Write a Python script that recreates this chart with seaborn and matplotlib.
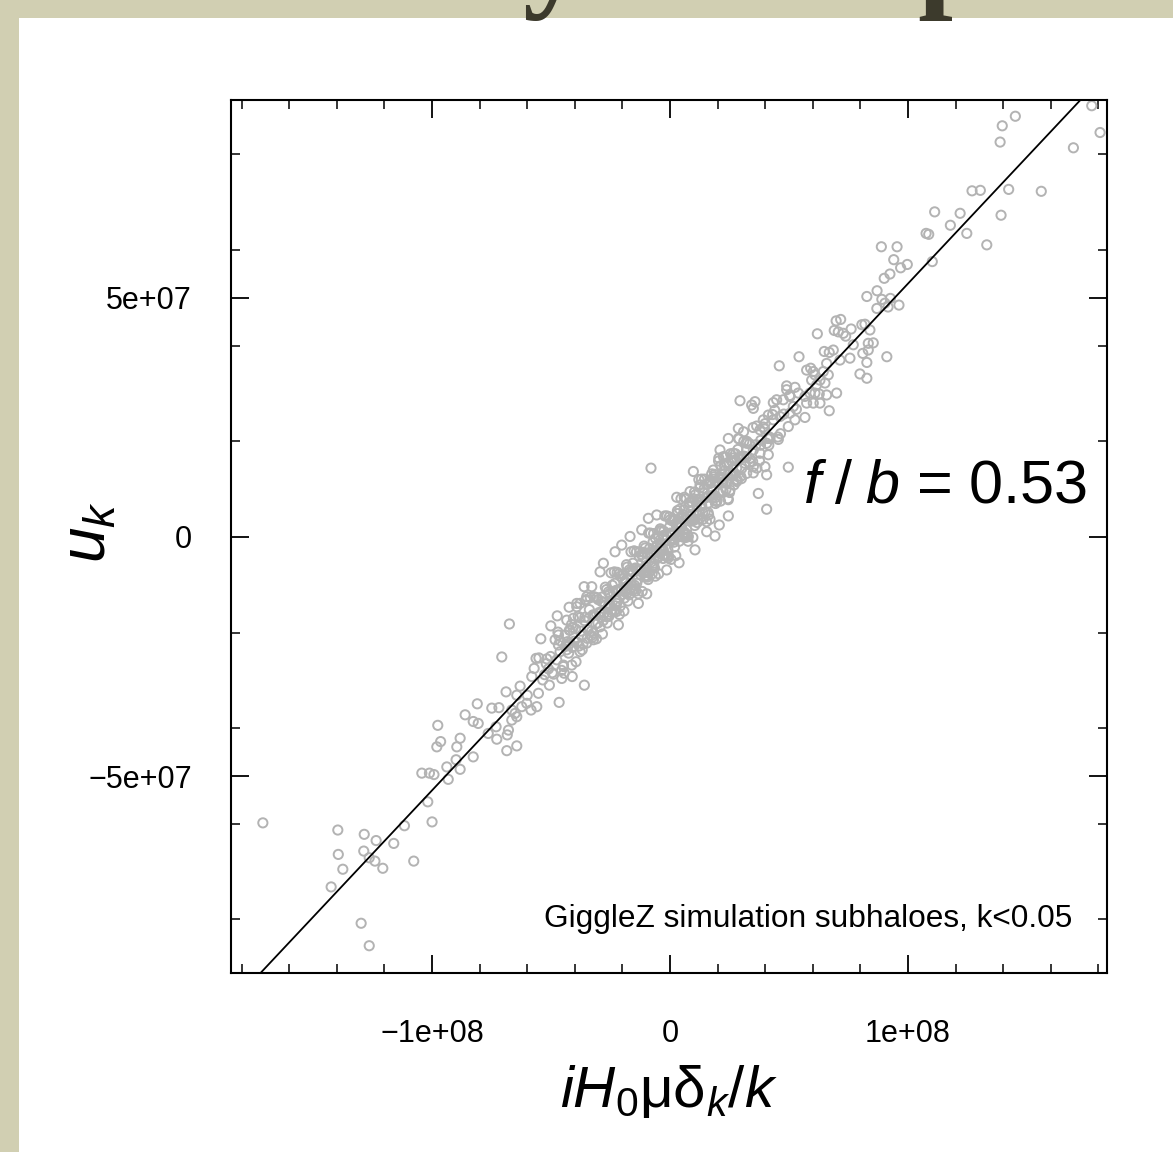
import numpy as np
import pandas as pd
import matplotlib
matplotlib.use("Agg")
import matplotlib.pyplot as plt
from matplotlib.patches import Rectangle
from matplotlib.ticker import MultipleLocator
import seaborn as sns

# values, in units of 1e6
upper_x = [177.2, 180.7, 145.1, 139.6, 138.7, 169.5, 126.9, 130.4, 142.3, 156.0,
           111.2, 121.9, 139.1, 117.8, 107.6, 108.7, 124.7, 133.1, 88.8, 95.4,
           94.0, 96.9, 99.7, 110.2, 90.0, 92.4, 87.0, 82.7, 89.0, 92.6,
           90.3, 86.9, 91.6, 96.2, 69.8, 71.7, 80.6, 81.9]
upper_y = [90.2, 84.6, 88.0, 86.0, 82.6, 81.4, 72.4, 72.5, 72.7, 72.3,
           68.0, 67.7, 67.3, 65.2, 63.5, 63.3, 63.5, 61.1, 60.7, 60.7,
           58.0, 56.3, 57.0, 57.6, 54.1, 55.0, 51.5, 50.3, 49.7, 49.9,
           48.9, 47.8, 48.1, 48.5, 45.2, 45.5, 44.4, 44.5]

mid_x = [61.9, 69.0, 70.7, 72.8, 73.8, 76.1, 84.0, 77.0, 83.3, 85.4,
         81.0, 83.3, 91.1, 82.7, 79.8, 82.7, 75.6, 71.4, 64.8, 66.9,
         68.6, 65.8, 64.4, 66.5, 65.1, 65.8, 70.0, 63.0, 66.9, 54.2,
         45.9, 57.4, 59.1, 60.2, 60.9, 59.5, 61.6, 63.0, 29.4, 34.3,
         35.7, 35.0, 44.8, 49.0, 52.5, 53.9, 50.4, 47.6, 56.7, 58.8,
         60.9, 62.7, 57.4, 60.2, 56.7, 51.8, 50.4, 52.5, 49.7, 46.2,
         43.4, 39.2, 41.3, 37.8, 28.7, 24.5, 28.7, 32.2, 35.0, 40.6,
         42.0, 37.8, 41.3, 39.9, 40.6, 49.7, 37.1, 21.0, 22.4, 26.6,
         29.4, 31.5, 28.0, 25.2, 21.0, 18.2, 16.8, 9.8, 12.6, 8.4,
         25.2, 28.0, 32.2, 35.0, 23.8]
mid_y = [42.5, 43.2, 42.9, 42.6, 42.0, 43.5, 43.3, 40.2, 40.5, 40.6,
         38.4, 39.1, 37.7, 36.5, 34.1, 33.2, 37.4, 37.0, 38.8, 38.6,
         39.1, 36.3, 34.6, 33.9, 32.2, 29.7, 30.1, 28.0, 26.4, 37.7,
         35.8, 34.9, 35.3, 34.6, 33.9, 32.8, 31.8, 32.8, 28.5, 27.6,
         28.3, 26.9, 28.7, 30.8, 31.3, 30.1, 29.4, 28.7, 29.4, 30.1,
         30.1, 29.9, 28.0, 28.0, 25.0, 27.3, 25.9, 24.5, 23.1, 25.2,
         24.5, 24.5, 25.5, 22.4, 22.7, 20.6, 20.6, 19.6, 18.2, 19.6,
         20.6, 17.5, 17.2, 14.7, 13.0, 14.6, 9.1, 18.2, 16.8, 17.5,
         16.8, 15.4, 14.4, 13.3, 12.6, 14.0, 11.9, 13.7, 10.9, 9.5,
         9.8, 11.6, 13.3, 14.7, 15.4]

edge_x = [-8.0, 40.6, 2.8, 10.5, 3.8, 15.4, 18.9, 20.7, 24.5, -1.4,
          -9.8, -21.7, -36.1, -43.4, -39.2, -42.0, -13.3, -23.1, -5.6, -9.1,
          -11.9, -16.8, -20.3, -23.1, -28.0, -29.4, -32.9, -35.0, -37.8, 0.0,
          4.2, 7.0, 1.4, -4.2, -2.8, -7.0, -11.2, -14.0, -18.2, -22.4,
          -26.6, -29.4, -32.2]
edge_y = [14.4, 5.8, 8.3, -2.7, -5.4, 1.1, 0.2, 2.5, 4.4, -6.9,
          -11.9, -18.4, -10.4, -17.4, -14.6, -19.5, -13.9, -15.3, 4.6, 3.9,
          1.5, 0.1, -1.7, -3.1, -5.5, -7.3, -10.4, -12.5, -13.9, 3.6,
          2.9, 1.5, -0.6, -1.3, -2.7, -6.2, -7.6, -9.7, -11.8, -13.9,
          -16.7, -18.8, -20.1]

core_x = [-46.2, -44.8, -43.1, -42.6, -41.4, -40.3, -39.7, -38.2, -37.5, -36.9,
          -35.8, -34.6, -33.9, -33.1, -32.4, -31.2, -30.7, -29.5, -28.8, -28.1,
          -27.3, -26.4, -25.9, -25.1, -24.3, -23.6, -22.8, -22.1, -21.4, -20.6,
          -19.9, -19.2, -18.5, -17.7, -17.1, -16.3, -15.6, -14.8, -14.2, -13.5,
          -12.7, -12.1, -11.4, -10.6, -9.9, -9.2, -8.6, -7.8, -7.1, -6.5,
          -5.7, -5.1, -4.4, -3.6, -2.9, -2.3, -1.5, -0.8, -0.2, 0.6,
          1.3, 1.9, 2.7, 3.4, 4.1, 4.8, 5.5, 6.2, 6.9, 7.7,
          8.3, 9.1, 9.8, 10.4, 11.2, 11.9, 12.6, 13.3, 14.1, 14.7,
          15.5, 16.2, 16.9, 17.6, 18.4, 19.1, 19.8, 20.5, 21.3, 22.0,
          22.7, 23.5, 24.2, 25.0, 25.8, 26.6, 27.5, 28.3, 29.2, 30.1,
          31.0, 32.2, 33.4, 34.7, 36.1, 37.6, 39.2, 41.0, 43.1, 45.3,
          -30.3, -27.9, -25.6, -23.2, -21.0, -18.9, -16.8, -14.6, -12.9, -11.0,
          -9.5, -8.0, -6.8, -5.4, -4.0, -2.6, -1.2, 0.1, 1.6, 3.0,
          4.5, 5.9, 7.3, 8.8, 10.1, 11.6, 13.0, 14.4, 16.0, 17.4,
          19.0, 20.8, 22.4, 24.6, 26.9, 29.5]
core_y = [-21.7, -26.8, -21.9, -24.3, -18.3, -21.8, -19.2, -22.8, -19.7, -23.6,
          -16.8, -19.4, -15.2, -20.6, -16.3, -18.2, -12.7, -16.0, -13.5, -17.5,
          -14.3, -18.0, -11.5, -14.4, -10.1, -15.6, -11.2, -13.4, -7.7, -11.3,
          -8.7, -12.8, -9.6, -13.4, -6.9, -9.7, -5.5, -10.9, -6.6, -8.9,
          -3.1, -6.8, -4.2, -8.2, -5.0, -8.9, -2.4, -5.2, -1.0, -6.5,
          -2.1, -4.4, 1.3, -2.3, 0.3, -3.8, -0.6, -4.4, 2.1, -0.8,
          3.5, -2.1, 2.3, 0.1, 5.8, 2.1, 4.7, 0.7, 3.9, 0.1,
          6.6, 3.7, 8.0, 2.4, 6.8, 4.6, 10.3, 6.6, 9.3, 5.2,
          8.4, 4.6, 11.2, 8.2, 12.6, 7.0, 11.4, 9.2, 14.9, 11.3,
          13.8, 9.9, 13.0, 9.3, 15.9, 13.0, 17.4, 11.9, 16.4, 14.3,
          20.0, 16.7, 19.5, 15.8, 19.3, 15.9, 23.0, 20.6, 25.6, 20.9,
          -18.0, -13.6, -13.9, -9.7, -14.5, -9.3, -10.8, -6.5, -7.1, -3.2,
          -8.4, -3.5, -5.5, -1.7, -2.4, 1.2, -4.0, 0.8, -1.1, 2.8,
          2.1, 5.7, 0.5, 5.4, 3.5, 7.3, 6.6, 10.2, 5.1, 9.9,
          8.2, 12.2, 11.6, 15.6, 10.9, 16.3]

band_x = [-58.4, -55.1, -52.7, -50.2, -48.9, -47.1, -45.6, -44.0, -42.3, -41.0,
          -39.5, -38.6, -37.2, -36.0, -34.8, -33.5, -32.7, -31.6, -30.2, -29.1,
          -28.4, -27.2, -26.1, -25.3, -24.6, -23.4, -22.5, -21.7, -20.9, -20.0,
          -19.4, -18.3, -17.4, -16.6, -15.9, -15.1, -14.4, -13.8, -13.0, -12.3,
          -11.7, -10.9, -10.2, -9.6, -8.9, -8.2, -7.5, -6.9, -6.1, -5.5,
          -4.8, -4.1, -3.5, -2.7, -2.0, -1.3, -0.6, 0.2, 0.9, 1.7,
          2.4, 3.1, 3.8, 4.6, 5.3, 6.0, 6.7, 7.4, 8.1, 8.9,
          9.6, 10.3, 11.0, 11.8, 12.5, 13.2, 13.9, 14.6, 15.3, 16.1,
          16.8, 17.5, 18.3, 19.0, 19.7, 20.4, 21.2, 21.9, 22.8, 23.7,
          24.5, 25.4, 26.3, 27.1, 28.0, 29.0, 30.0, 31.1, 32.3, 33.6,
          35.0, 36.4, 38.0, 39.7, 41.5, 43.4, 45.5, 47.8, 50.3, 53.1]
band_y = [-36.2, -25.3, -28.8, -25.0, -28.7, -19.9, -27.9, -22.9, -19.5, -23.1,
          -26.1, -16.6, -20.6, -17.5, -21.2, -12.7, -21.0, -16.3, -13.1, -16.8,
          -20.3, -10.5, -14.7, -11.8, -15.8, -7.3, -15.6, -11.1, -8.2, -12.0,
          -15.5, -5.8, -10.1, -7.2, -11.2, -2.9, -11.3, -6.9, -4.0, -7.9,
          -11.4, -1.9, -6.3, -3.5, -7.5, 0.8, -7.7, -3.3, -0.3, -4.3,
          -7.7, 1.7, -2.8, 0.2, -3.9, 4.4, -4.0, 0.5, 3.4, -0.5,
          -3.9, 5.5, 1.1, 4.0, 0.0, 8.3, -0.1, 4.3, 7.2, 3.3,
          -0.1, 9.4, 4.9, 7.9, 3.8, 12.1, 3.7, 8.1, 11.0, 7.1,
          3.7, 13.2, 8.8, 11.7, 7.6, 15.9, 7.5, 12.0, 15.0, 11.2,
          7.8, 17.4, 13.0, 16.0, 12.0, 20.5, 12.2, 16.9, 20.0, 16.4,
          13.4, 23.2, 19.2, 22.6, 19.2, 28.1, 20.4, 25.7, 29.6, 26.7]

dense_x = [-52.0, -49.5, -46.9, -44.5, -42.8, -40.8, -39.0, -37.9, -36.6, -35.3,
           -34.1, -33.0, -31.9, -30.9, -29.8, -28.7, -27.6, -26.7, -25.7, -24.8,
           -23.9, -23.0, -22.2, -21.3, -20.4, -19.6, -18.8, -18.0, -17.2, -16.4,
           -15.6, -14.9, -14.1, -13.3, -12.6, -11.9, -11.1, -10.4, -9.7, -9.0,
           -8.3, -7.6, -6.9, -6.2, -5.6, -4.9, -4.2, -3.5, -2.9, -2.2,
           -1.5, -0.9, -0.3, 0.4, 1.1, 1.8, 2.5, 3.2, 3.9, 4.6,
           5.3, 6.1, 6.8, 7.6, 8.3, 9.0, 9.8, 10.6, 11.4, 12.1,
           12.9, 13.7, 14.5, 15.3, 16.2, 17.0, 17.9, 18.7, 19.6, 20.5,
           21.4, 22.3, 23.3, 24.3, 25.3, 26.3, 27.4, 28.5, 29.7, 30.9,
           32.2, 33.5, 34.9, 36.5, 38.1, 39.9, 41.8, 44.0, 46.4, 49.0]
dense_y = [-26.5, -28.4, -20.5, -28.5, -22.7, -19.0, -22.0, -16.9, -22.4, -13.1,
           -17.0, -19.7, -12.5, -21.3, -15.8, -12.6, -15.9, -11.0, -16.6, -7.5,
           -11.6, -14.4, -7.4, -16.2, -10.8, -7.8, -11.3, -6.3, -12.1, -3.1,
           -7.2, -10.1, -3.1, -11.9, -6.7, -3.7, -7.2, -2.3, -8.1, 0.8,
           -3.3, -6.2, 0.7, -8.2, -3.0, 0.0, -3.5, 1.3, -4.5, 4.4,
           0.3, -2.7, 4.2, -4.7, 0.6, 3.6, 0.0, 4.9, -0.9, 8.0,
           3.9, 1.0, 8.0, -0.9, 4.4, 7.4, 3.9, 8.8, 3.0, 12.0,
           7.9, 5.1, 12.1, 3.2, 8.6, 11.6, 8.2, 13.1, 7.4, 16.5,
           12.4, 9.6, 16.7, 8.0, 13.4, 16.5, 13.2, 18.3, 12.7, 22.0,
           18.2, 15.6, 22.9, 14.4, 20.2, 23.7, 20.9, 26.5, 21.6, 31.6]

lower_x = [-67.5, -70.7, -54.3, -50.1, -47.4, -42.4, -39.2, -35.4, -40.6, -48.3,
           -46.9, -44.1, -42.0, -46.2, -43.4, -40.6, -37.8, -35.0, -32.2, -56.3,
           -51.8, -57.1, -51.1, -47.6, -44.8, -41.3, -45.5, -41.1, -36.0, -50.7,
           -53.5, -58.1, -55.3, -56.0, -46.6, -63.0, -60.0, -68.9, -64.4, -66.5,
           -62.3, -60.2, -64.4, -66.5, -65.1, -67.9, -68.4, -73.1, -76.4, -72.8,
           -68.6, -64.4, -71.9, -74.9, -81.0, -86.1, -82.7, -80.6, -97.6, -96.4,
           -98.0, -89.6, -88.2, -89.9, -82.7, -88.2, -93.8, -101.1, -99.2, -104.3,
           -93.2]
lower_y = [-18.2, -25.1, -21.3, -18.6, -16.5, -14.7, -13.9, -13.3, -17.0, -21.5,
           -22.6, -20.5, -22.2, -24.0, -23.6, -22.9, -24.0, -22.2, -21.5, -25.4,
           -25.5, -27.5, -27.6, -25.7, -27.1, -26.8, -29.6, -29.2, -31.0, -31.0,
           -29.9, -29.2, -32.7, -35.5, -34.6, -31.2, -33.1, -32.4, -33.1, -36.2,
           -35.5, -34.8, -37.6, -38.3, -36.9, -40.4, -41.4, -39.7, -41.1, -42.3,
           -44.7, -43.7, -35.7, -35.8, -34.9, -37.2, -38.6, -39.0, -39.4, -42.8,
           -43.9, -43.9, -42.1, -46.6, -46.0, -48.6, -48.1, -49.4, -49.7, -49.4,
           -50.7]

tail_x = [-101.8, -100.0, -111.6, -116.1, -107.7, -171.1, -139.6, -128.5, -123.5,
          -139.4, -128.7, -126.4, -124.0, -120.7, -137.5, -142.4, -129.8, -126.4]
tail_y = [-55.4, -59.6, -60.4, -64.1, -67.8, -59.8, -61.3, -62.2, -63.5,
          -66.4, -65.7, -67.1, -67.8, -69.3, -69.5, -73.2, -80.8, -85.5]

fit_slope = 0.53
unit = 1e6

xticks = [-1e8, 0, 1e8]
xtick_labels = ["\u22121e+08", "0", "1e+08"]
yticks = [-5e7, 0, 5e7]
ytick_labels = ["\u22125e+07", "0", "5e+07"]

all_x = upper_x + mid_x + edge_x + core_x + band_x + dense_x + lower_x + tail_x
all_y = upper_y + mid_y + edge_y + core_y + band_y + dense_y + lower_y + tail_y
df = pd.DataFrame({"x": np.array(all_x) * unit, "y": np.array(all_y) * unit})

sns.set_style("ticks")
plt.rcParams["font.family"] = ["Liberation Sans", "DejaVu Sans"]
plt.rcParams["mathtext.fontset"] = "custom"
plt.rcParams["mathtext.rm"] = "Liberation Sans"
plt.rcParams["mathtext.it"] = "Liberation Sans:italic"
plt.rcParams["text.color"] = "black"
plt.rcParams["axes.labelcolor"] = "black"

fig = plt.figure(figsize=(11.73, 11.52), dpi=100, facecolor="#d1cfb2")
# white slide panel over the textured background
fig.add_artist(Rectangle((19 / 1173, 0), 1, 1 - 18 / 1152, transform=fig.transFigure,
                         facecolor="white", edgecolor="none", zorder=0))
# bottoms of the cut-off slide title
for xpos, ch in [(554 / 1173, "y"), (952 / 1173, "p")]:
    fig.text(xpos, 1.0 + 6 / 1152, ch, ha="center", va="baseline", fontsize=90,
             family="Liberation Serif", weight="bold", color="#3c3a2c", zorder=1)

ax = fig.add_axes([0.1969, 0.1554, 0.7468, 0.7578])
ax.set_facecolor("white")

sns.scatterplot(data=df, x="x", y="y", ax=ax, marker="o", s=44,
                facecolor="none", edgecolor="#b3b3b3", linewidth=1.4, zorder=2)
ax.axline((0, 0), slope=fit_slope, color="black", lw=1.3, zorder=3)

ax.set_xlim(-1.845e8, 1.836e8)
ax.set_ylim(-9.12e7, 9.14e7)
ax.set_xticks(xticks, labels=xtick_labels)
ax.set_yticks(yticks, labels=ytick_labels)
ax.xaxis.set_minor_locator(MultipleLocator(2e7))
ax.yaxis.set_minor_locator(MultipleLocator(2e7))
ax.tick_params(which="both", direction="in", top=True, right=True, colors="black")
ax.tick_params(which="major", length=13, width=1.3, labelsize=22)
ax.tick_params(which="minor", length=6.5, width=1.1)
ax.tick_params(axis="x", which="major", pad=33)
ax.tick_params(axis="y", which="major", pad=28)
for sp in ax.spines.values():
    sp.set_linewidth(1.5)
    sp.set_color("black")

ax.set_xlabel(r"$iH_0\mathrm{\mu\delta}_k/k$", fontsize=42, va="center")
ax.xaxis.set_label_coords(0.5, -0.136)
ax.set_ylabel(r"$u_k$", fontsize=46, va="center")
ax.yaxis.set_label_coords(-0.162, 0.505)

ax.text(0.977, 0.538, r"$f\;/\;b$ = 0.53", transform=ax.transAxes, ha="right",
        va="baseline", fontsize=44)
ax.text(0.961, 0.053, "GiggleZ simulation subhaloes, k<0.05", transform=ax.transAxes,
        ha="right", va="baseline", fontsize=22.8)

fig.savefig("out.png", dpi=100, facecolor=fig.get_facecolor())
